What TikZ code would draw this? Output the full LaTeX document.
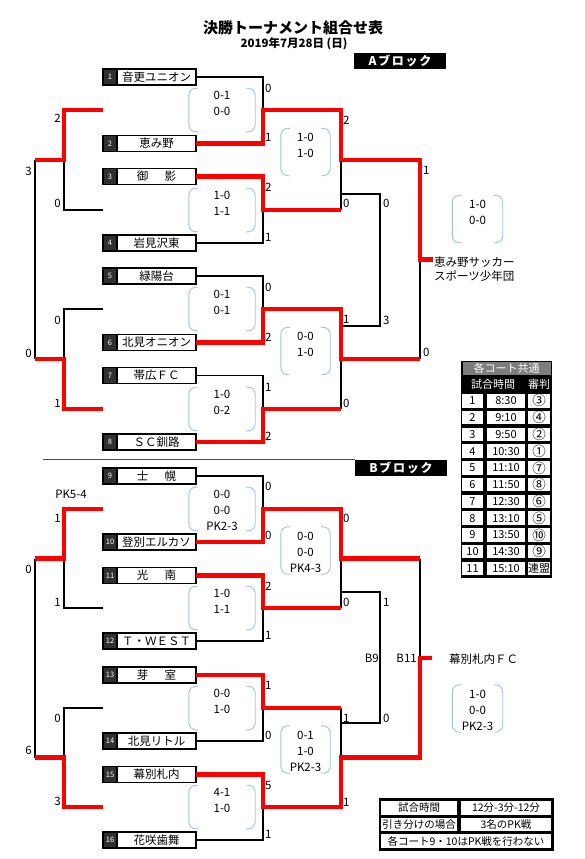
\documentclass[tikz,border=0pt]{standalone}
\usepackage{fontspec}
\setmainfont{Noto Sans CJK JP}
\usetikzlibrary{positioning}
\definecolor{winred}{RGB}{255,0,0}
\definecolor{bubbleblue}{RGB}{157,195,230}
\definecolor{numdark}{RGB}{48,48,48}
\definecolor{headgray}{RGB}{125,125,125}
\newcommand{\scorebrackets}[1]{%
    \draw[bubbleline] ([xshift=9pt]#1.north west) -- (#1.north west) -- (#1.south west) -- ([xshift=9pt]#1.south west);
    \draw[bubbleline] ([xshift=-9pt]#1.north east) -- (#1.north east) -- (#1.south east) -- ([xshift=-9pt]#1.south east);
}
\tikzset{
    titletext/.style={inner sep=0pt,font=\fontsize{15}{17}\bfseries},
    datetext/.style={inner sep=0pt,font=\fontsize{11.5}{13}\bfseries},
    blocktag/.style={fill=black,text=white,minimum width=92pt,minimum height=16pt,inner sep=0pt,font=\fontsize{12}{14}\bfseries\addfontfeature{LetterSpace=14}},
    divider/.style={line width=0.8pt,draw=black!70},
    teamname/.style={rectangle,draw,line width=1.5pt,fill=white,outer sep=0pt,inner sep=0pt,minimum width=79pt,minimum height=16pt,font=\fontsize{11.5}{13}\selectfont},
    teamnum/.style={rectangle,draw,line width=1.5pt,fill=numdark,text=white,outer sep=0pt,inner sep=0pt,minimum width=14pt,minimum height=16pt,font=\fontsize{7.5}{9}\selectfont},
    bubble/.style={align=center,inner sep=0pt,minimum width=66pt,minimum height=42pt,font=\fontsize{11.5}{16}\selectfont},
    bubblemid/.style={bubble,minimum width=49pt,minimum height=47pt},
    bubblefin/.style={bubble,minimum width=50pt,minimum height=47pt},
    bubbleline/.style={draw=bubbleblue,line width=0.9pt,rounded corners=7pt},
    score/.style={inner sep=1pt,font=\fontsize{11.5}{13}\selectfont},
    scoreR/.style={score,anchor=west},
    scoreL/.style={score,anchor=east},
    lostline/.style={line width=1.6pt},
    wonline/.style={line width=4.2pt,draw=winred},
    winnertext/.style={inner sep=0pt,anchor=west,align=left,font=\fontsize{11.5}{14}\selectfont},
    tabhead/.style={fill=headgray,text=white,minimum width=88pt,minimum height=13pt,inner sep=0pt,font=\fontsize{11}{12}\selectfont},
    tabtitle/.style={text=white,inner sep=0pt,font=\fontsize{11}{12}\selectfont},
    tabcell/.style={fill=white,inner sep=0pt,minimum height=13.5pt,font=\fontsize{11}{12}\selectfont},
    tabno/.style={tabcell,minimum width=21pt},
    tabtime/.style={tabcell,minimum width=38pt},
    tabref/.style={tabcell,minimum width=22pt,font=\fontsize{13.5}{14}\selectfont},
    rulecell/.style={fill=white,inner sep=0pt,font=\fontsize{10.5}{12}\selectfont}
}

\begin{document}
\begin{tikzpicture}[x=1pt,y=-1pt]
    \useasboundingbox (0,0) rectangle (585,859);
    % heading
    \node[titletext] (title) at (293,28) {決勝トーナメント組合せ表};
    \node[datetext] (date) at (294,44) {2019年7月28日 (日)};
    \node[blocktag] (blockA) at (400,61) {Aブロック};
    \node[blocktag] (blockB) at (401,468) {Bブロック};
    \coordinate (divL) at (43,459);
    \draw[divider] (divL) -- (divL -| blockB.west);

    % teams
    \node[teamname] (t1) at (156.5,77) {音更ユニオン};
    \node[teamnum,left=0pt of t1] (n1) {1};
    \node[teamname] (t2) at (156.5,143.5) {恵み野};
    \node[teamnum,left=0pt of t2] (n2) {2};
    \node[teamname] (t3) at (156.5,176.5) {御\hspace{1.4em}影};
    \node[teamnum,left=0pt of t3] (n3) {3};
    \node[teamname] (t4) at (156.5,243) {岩見沢東};
    \node[teamnum,left=0pt of t4] (n4) {4};
    \node[teamname] (t5) at (156.5,276) {緑陽台};
    \node[teamnum,left=0pt of t5] (n5) {5};
    \node[teamname] (t6) at (156.5,342.5) {北見オニオン};
    \node[teamnum,left=0pt of t6] (n6) {6};
    \node[teamname] (t7) at (156.5,375.5) {帯広ＦＣ};
    \node[teamnum,left=0pt of t7] (n7) {7};
    \node[teamname] (t8) at (156.5,442) {ＳＣ釧路};
    \node[teamnum,left=0pt of t8] (n8) {8};
    \node[teamname] (t9) at (156.5,476) {士\hspace{1.4em}幌};
    \node[teamnum,left=0pt of t9] (n9) {9};
    \node[teamname] (t10) at (156.5,542) {登別エルカソ};
    \node[teamnum,left=0pt of t10] (n10) {10};
    \node[teamname] (t11) at (156.5,575.5) {光\hspace{1.4em}南};
    \node[teamnum,left=0pt of t11] (n11) {11};
    \node[teamname] (t12) at (156.5,641) {Ｔ・ＷＥＳＴ};
    \node[teamnum,left=0pt of t12] (n12) {12};
    \node[teamname] (t13) at (156.5,675) {芽\hspace{1.4em}室};
    \node[teamnum,left=0pt of t13] (n13) {13};
    \node[teamname] (t14) at (156.5,741) {北見リトル};
    \node[teamnum,left=0pt of t14] (n14) {14};
    \node[teamname] (t15) at (156.5,774.5) {幕別札内};
    \node[teamnum,left=0pt of t15] (n15) {15};
    \node[teamname] (t16) at (156.5,840) {花咲歯舞};
    \node[teamnum,left=0pt of t16] (n16) {16};

    % junctions
    \coordinate (g1) at (263,110);
    \coordinate (g2) at (263,210);
    \coordinate (g3) at (263,309);
    \coordinate (g4) at (263,409);
    \coordinate (g5) at (263,509);
    \coordinate (g6) at (263,608);
    \coordinate (g7) at (263,708);
    \coordinate (g8) at (263,807);
    \coordinate (s1) at (341,160);
    \coordinate (s2) at (341,359);
    \coordinate (s3) at (341,558.5);
    \coordinate (s4) at (341,757.5);
    \coordinate (fa) at (420,259.5);
    \coordinate (fb) at (420,658);
    \coordinate (wA) at (433,259.5);
    \coordinate (wB) at (432,658);
    \coordinate (ca1) at (341,194);
    \coordinate (ca2) at (341,326);
    \coordinate (ca) at (380,260);
    \coordinate (cb1) at (341,592);
    \coordinate (cb2) at (341,723);
    \coordinate (cb) at (380,657.5);
    \coordinate (e1) at (103,110);
    \coordinate (e2) at (103,210);
    \coordinate (e3) at (103,309);
    \coordinate (e4) at (103,409);
    \coordinate (e5) at (103,509);
    \coordinate (e6) at (103,608);
    \coordinate (e7) at (103,708);
    \coordinate (e8) at (103,807);
    \coordinate (la1) at (64,160);
    \coordinate (la2) at (64,359);
    \coordinate (lA) at (35,259.5);
    \coordinate (lb1) at (64,558.5);
    \coordinate (lb2) at (64,757.5);
    \coordinate (lB) at (35,658);

    % score bubbles
    \node[bubble] (b1) at (222,110) {\strut 0-1\\0-0\\\mbox{}};
    \node[bubble] (b2) at (222,210) {\strut 1-0\\1-1\\\mbox{}};
    \node[bubble] (b3) at (222,309) {\strut 0-1\\0-1\\\mbox{}};
    \node[bubble] (b4) at (222,409) {\strut 1-0\\0-2\\\mbox{}};
    \node[bubble] (b5) at (222,509) {\strut 0-0\\0-0\\PK2-3};
    \node[bubble] (b6) at (222,608) {\strut 1-0\\1-1\\\mbox{}};
    \node[bubble] (b7) at (222,708) {\strut 0-0\\1-0\\\mbox{}};
    \node[bubble] (b8) at (222,807) {\strut 4-1\\1-0\\\mbox{}};
    \node[bubblemid] (c1) at (305.5,152) {\strut 1-0\\1-0\\\mbox{}};
    \node[bubblemid] (c2) at (305.5,351) {\strut 0-0\\1-0\\\mbox{}};
    \node[bubblemid] (c3) at (305.5,550.5) {\strut 0-0\\0-0\\PK4-3};
    \node[bubblemid] (c4) at (305.5,749.5) {\strut 0-1\\1-0\\PK2-3};
    \node[bubblefin] (dA) at (477.5,219) {\strut 1-0\\0-0\\\mbox{}};
    \node[bubblefin] (dB) at (477.5,708.5) {\strut 1-0\\0-0\\PK2-3};
    \scorebrackets{b1}
    \scorebrackets{b2}
    \scorebrackets{b3}
    \scorebrackets{b4}
    \scorebrackets{b5}
    \scorebrackets{b6}
    \scorebrackets{b7}
    \scorebrackets{b8}
    \scorebrackets{c1}
    \scorebrackets{c2}
    \scorebrackets{c3}
    \scorebrackets{c4}
    \scorebrackets{dA}
    \scorebrackets{dB}

    % lost paths
    \draw[lostline] (t1.east) -| (g1);
    \draw[lostline] (t4.east) -| (g2);
    \draw[lostline] (t5.east) -| (g3);
    \draw[lostline] (t7.east) -| (g4);
    \draw[lostline] (t9.east) -| (g5);
    \draw[lostline] (t12.east) -| (g6);
    \draw[lostline] (t14.east) -| (g7);
    \draw[lostline] (t16.east) -| (g8);
    \draw[lostline] (g2 -| s1) -- (s1);
    \draw[lostline] (g4 -| s2) -- (s2);
    \draw[lostline] (s2 -| fa) -- (fa);
    \draw[lostline] (g6 -| s3) -- (s3);
    \draw[lostline] (g7 -| s4) -- (s4);
    \draw[lostline] (s3 -| fb) -- (fb);
    \draw[lostline] (ca1) -| (ca);
    \draw[lostline] (ca2) -| (ca);
    \draw[lostline] (cb1) -| (cb);
    \draw[lostline] (cb2) -| (cb);
    \draw[lostline] (e2) -| (la1);
    \draw[lostline] (e3) -| (la2);
    \draw[lostline] (la1 -| lA) -- (la2 -| lA);
    \draw[lostline] (e6) -| (lb1);
    \draw[lostline] (e7) -| (lb2);
    \draw[lostline] (lb1 -| lB) -- (lb2 -| lB);

    % winning paths
    \draw[wonline] (t2.east) -| (g1) -| (s1) -| (fa) -- (wA);
    \draw[wonline] (t3.east) -| (g2) -- (g2 -| s1);
    \draw[wonline] (t6.east) -| (g3) -| (s2) -- (s2 -| fa);
    \draw[wonline] (t8.east) -| (g4) -- (g4 -| s2);
    \draw[wonline] (t10.east) -| (g5) -| (s3) -- (s3 -| fb);
    \draw[wonline] (t11.east) -| (g6) -- (g6 -| s3);
    \draw[wonline] (t13.east) -| (g7) -- (g7 -| s4);
    \draw[wonline] (t15.east) -| (g8) -| (s4) -| (fb) -- (wB);
    \draw[wonline] (e1) -| (la1) -- (la1 -| lA);
    \draw[wonline] (e4) -| (la2) -- (la2 -| lA);
    \draw[wonline] (e5) -| (lb1) -- (lb1 -| lB);
    \draw[wonline] (e8) -| (lb2) -- (lb2 -| lB);

    % winners
    \node[winnertext] (winA) at (434,269) {恵み野サッカー\\スポーツ少年団};
    \node[winnertext] (winB) at (449,659) {幕別札内ＦＣ};
    \node[scoreL] (b9tag) at (380,658) {B9};
    \node[scoreL] (b11tag) at (418,658) {B11};

    % scores, first round
    \node[scoreR] (r1) at (264,88) {0};
    \node[scoreR] (r2) at (264,137) {1};
    \node[scoreR] (r3) at (264,187) {2};
    \node[scoreR] (r4) at (264,237) {1};
    \node[scoreR] (r5) at (264,287) {0};
    \node[scoreR] (r6) at (264,337) {2};
    \node[scoreR] (r7) at (264,387) {1};
    \node[scoreR] (r8) at (264,436) {2};
    \node[scoreR] (r9) at (264,486) {0};
    \node[scoreR] (r10) at (264,535) {0};
    \node[scoreR] (r11) at (264,586) {2};
    \node[scoreR] (r12) at (264,635) {1};
    \node[scoreR] (r13) at (264,685) {1};
    \node[scoreR] (r14) at (264,735) {0};
    \node[scoreR] (r15) at (264,785) {5};
    \node[scoreR] (r16) at (264,834) {1};
    % scores, second round and finals
    \node[scoreR] (q1) at (342,120) {2};
    \node[scoreR] (q2) at (342,203) {0};
    \node[scoreR] (q3) at (342,319) {1};
    \node[scoreR] (q4) at (342,403) {0};
    \node[scoreR] (q5) at (342,518) {0};
    \node[scoreR] (q6) at (342,602) {0};
    \node[scoreR] (q7) at (342,718) {1};
    \node[scoreR] (q8) at (342,802) {1};
    \node[scoreR] (fa1) at (422,170) {1};
    \node[scoreR] (fa2) at (422,352) {0};
    \node[scoreR] (ca1s) at (382,203) {0};
    \node[scoreR] (ca2s) at (382,320) {3};
    \node[scoreR] (cb1s) at (382,602) {1};
    \node[scoreR] (cb2s) at (382,718) {0};
    % scores, left side
    \node[scoreL] (l1) at (62,118) {2};
    \node[scoreL] (l2) at (62,203) {0};
    \node[scoreL] (l3) at (62,320) {0};
    \node[scoreL] (l4) at (62,403) {1};
    \node[scoreL] (lA1) at (33,171) {3};
    \node[scoreL] (lA2) at (33,353) {0};
    \node[score] (pk) at (71,494) {PK5-4};
    \node[scoreL] (l5) at (62,518) {1};
    \node[scoreL] (l6) at (62,602) {1};
    \node[scoreL] (l7) at (62,718) {0};
    \node[scoreL] (l8) at (62,801) {3};
    \node[scoreL] (lB1) at (33,569) {0};
    \node[scoreL] (lB2) at (33,750) {6};

    % time table
    \fill (461,361) rectangle (552,578);
    \node[tabhead] (hd) at (506.5,368.5) {各コート共通};
    \node[tabtitle] (hdtime) at (493,384) {試合時間};
    \node[tabtitle] (hdref) at (539,384) {審判};
    \node[tabno] (m1) at (472.5,400.8) {1};
    \node[tabtime] (h1) at (506,400.8) {8:30};
    \node[tabref] (j1) at (539,400.8) {③};
    \node[tabno] (m2) at (472.5,417.5) {2};
    \node[tabtime] (h2) at (506,417.5) {9:10};
    \node[tabref] (j2) at (539,417.5) {④};
    \node[tabno] (m3) at (472.5,434.3) {3};
    \node[tabtime] (h3) at (506,434.3) {9:50};
    \node[tabref] (j3) at (539,434.3) {②};
    \node[tabno] (m4) at (472.5,451.1) {4};
    \node[tabtime] (h4) at (506,451.1) {10:30};
    \node[tabref] (j4) at (539,451.1) {①};
    \node[tabno] (m5) at (472.5,467.9) {5};
    \node[tabtime] (h5) at (506,467.9) {11:10};
    \node[tabref] (j5) at (539,467.9) {⑦};
    \node[tabno] (m6) at (472.5,484.6) {6};
    \node[tabtime] (h6) at (506,484.6) {11:50};
    \node[tabref] (j6) at (539,484.6) {⑧};
    \node[tabno] (m7) at (472.5,501.4) {7};
    \node[tabtime] (h7) at (506,501.4) {12:30};
    \node[tabref] (j7) at (539,501.4) {⑥};
    \node[tabno] (m8) at (472.5,518.2) {8};
    \node[tabtime] (h8) at (506,518.2) {13:10};
    \node[tabref] (j8) at (539,518.2) {⑤};
    \node[tabno] (m9) at (472.5,534.9) {9};
    \node[tabtime] (h9) at (506,534.9) {13:50};
    \node[tabref] (j9) at (539,534.9) {⑩};
    \node[tabno] (m10) at (472.5,551.7) {10};
    \node[tabtime] (h10) at (506,551.7) {14:30};
    \node[tabref] (j10) at (539,551.7) {⑨};
    \node[tabno] (m11) at (472.5,568.5) {11};
    \node[tabtime] (h11) at (506,568.5) {15:10};
    \node[tabref,font=\fontsize{11}{12}\selectfont] (j11) at (539,568.5) {連盟};

    % rules table
    \fill (378.5,797.5) rectangle (553.5,850.5);
    \node[rulecell,minimum width=76pt,minimum height=14pt] (ru1) at (419,808) {試合時間};
    \node[rulecell,minimum width=90pt,minimum height=14pt] (rv1) at (506,808) {12分-3分-12分};
    \node[rulecell,minimum width=76pt,minimum height=13pt] (ru2) at (419,824.5) {引き分けの場合};
    \node[rulecell,minimum width=90pt,minimum height=13pt] (rv2) at (506,824.5) {3名のPK戦};
    \node[rulecell,minimum width=170pt,minimum height=14pt] (ru3) at (466,841) {各コート9・10はPK戦を行わない};
\end{tikzpicture}
\end{document}
